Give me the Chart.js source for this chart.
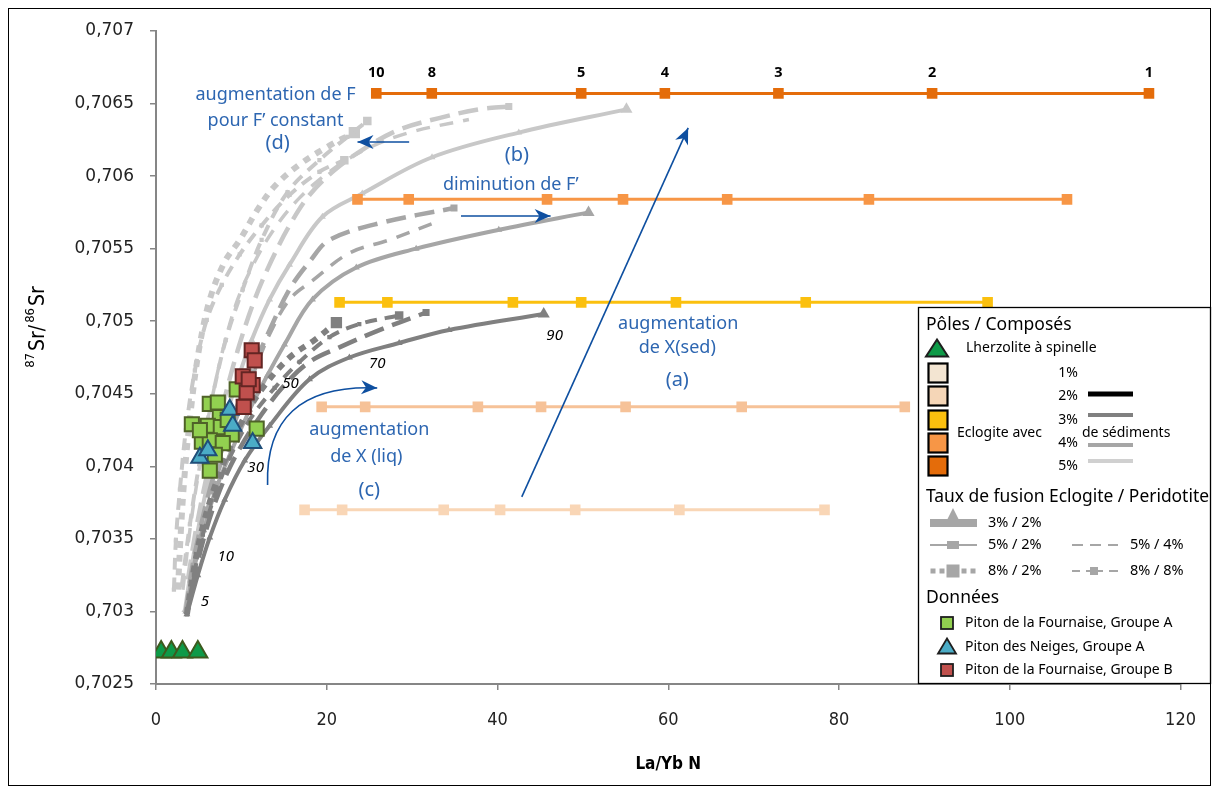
<!DOCTYPE html>
<html>
<head>
<meta charset="utf-8">
<script src="https://cdn.jsdelivr.net/npm/chart.js@4.4.0/dist/chart.umd.min.js"></script>
<style>
  html, body { margin: 0; padding: 0; background: #fff; }
  #wrap { position: relative; width: 1216px; height: 793px; }
  #frame { position: absolute; left: 8px; top: 8px; width: 1203px; height: 778px; border: 1px solid #000; box-sizing: border-box; pointer-events: none; }
  canvas { position: absolute; left: 0; top: 0; }
</style>
</head>
<body>
<div id="wrap">
  <canvas id="chart" width="1216" height="793"></canvas>
  <div id="frame"></div>
</div>
<script>
// axes
const xTickValues = [0, 20, 40, 60, 80, 100, 120];
const yTickValues = [0.7025, 0.703, 0.7035, 0.704, 0.7045, 0.705, 0.7055, 0.706, 0.7065, 0.707];

// poles (eclogite + sediments), La/Yb N for each point, one Sr ratio per line
const poleLabels = ['10', '8', '5', '4', '3', '2', '1'];
const pole5X = [25.8, 32.3, 49.8, 59.6, 72.9, 90.9, 116.3];
const pole4X = [23.6, 29.6, 45.8, 54.7, 66.9, 83.5, 106.7];
const pole3X = [21.5, 27.1, 41.8, 49.8, 60.9, 76.1, 97.4];
const pole2X = [19.4, 24.5, 37.7, 45.1, 55.0, 68.6, 87.7];
const pole1X = [17.4, 21.8, 33.7, 40.3, 49.1, 61.3, 78.3];
const poleY = [0.70370, 0.70441, 0.70513, 0.70584, 0.70657];

// lherzolite
const lherzX = [0.6, 1.8, 3.1, 4.9];
const lherzY = [0.70272, 0.70272, 0.70272, 0.70272];

// data
const greenX = [4.20, 6.30, 7.24, 7.47, 6.07, 7.59, 8.87, 5.37, 6.30, 7.82, 6.89, 6.30, 11.79, 9.45, 8.40, 5.14];
const greenY = [0.70429, 0.70443, 0.70444, 0.70434, 0.70428, 0.70427, 0.70422, 0.70417, 0.70418, 0.70416, 0.70408, 0.70397, 0.70426, 0.70453, 0.70432, 0.70425];
const blueX = [8.64, 11.32, 5.14, 6.07, 8.99];
const blueY = [0.70439, 0.70416, 0.70406, 0.70411, 0.70428];
const redX = [11.21, 11.56, 10.16, 11.32, 10.62, 10.27, 10.86];
const redY = [0.70480, 0.70473, 0.70462, 0.70456, 0.70451, 0.70441, 0.70460];

// mixing curves, 3% sediments (dark)
const darkSolidX = [3.62, 4.90, 6.30, 8.05, 10.39, 13.31, 17.98, 22.65, 28.48, 34.32, 45.41];
const darkSolidY = [0.70298, 0.70325, 0.70351, 0.70377, 0.70404, 0.70428, 0.70460, 0.70475, 0.70485, 0.70494, 0.70505];
const darkLongX = [3.62, 4.55, 5.72, 7.24, 9.22, 11.91, 15.06, 17.98, 21.48, 25.80, 31.63];
const darkLongY = [0.70298, 0.70325, 0.70353, 0.70380, 0.70406, 0.70432, 0.70456, 0.70472, 0.70482, 0.70493, 0.70506];
const darkDotX = [3.62, 4.32, 5.25, 6.54, 8.05, 9.81, 12.37, 15.64, 18.56, 21.13];
const darkDotY = [0.70298, 0.70325, 0.70353, 0.70380, 0.70404, 0.70428, 0.70453, 0.70475, 0.70487, 0.70499];
const darkSqX = [3.62, 4.44, 5.49, 6.89, 8.64, 10.97, 13.89, 16.81, 20.31, 23.81, 28.48];
const darkSqY = [0.70298, 0.70325, 0.70353, 0.70380, 0.70406, 0.70432, 0.70454, 0.70472, 0.70489, 0.70498, 0.70504];

// 4% sediments (medium)
const midSolidX = [3.50, 4.44, 5.60, 7.00, 8.87, 10.97, 13.07, 15.06, 18.33, 23.46, 30.47, 40.15, 50.66];
const midSolidY = [0.70300, 0.70329, 0.70356, 0.70384, 0.70411, 0.70439, 0.70463, 0.70484, 0.70515, 0.70537, 0.70550, 0.70563, 0.70575];
const midLongX = [3.50, 4.20, 5.14, 6.30, 7.70, 9.34, 11.21, 13.31, 15.64, 17.98, 20.31, 26.50, 34.90];
const midLongY = [0.70300, 0.70329, 0.70356, 0.70384, 0.70411, 0.70439, 0.70466, 0.70494, 0.70522, 0.70541, 0.70556, 0.70568, 0.70578];
const midDotX = [3.50, 4.32, 5.37, 6.65, 8.17, 9.81, 11.56, 13.31, 15.64, 18.33, 22.65, 27.31, 33.15];
const midDotY = [0.70300, 0.70329, 0.70356, 0.70384, 0.70411, 0.70439, 0.70466, 0.70491, 0.70515, 0.70528, 0.70547, 0.70556, 0.70569];

// 5% sediments (light)
const lightSolidX = [3.39, 4.20, 5.14, 6.30, 7.70, 9.34, 11.21, 13.31, 15.64, 19.49, 24.16, 32.33, 42.49, 55.10];
const lightSolidY = [0.70301, 0.70332, 0.70363, 0.70394, 0.70425, 0.70456, 0.70487, 0.70515, 0.70539, 0.70572, 0.70588, 0.70613, 0.70630, 0.70646];
const lightLongX = [3.74, 4.67, 6.07, 7.70, 9.57, 11.56, 13.54, 15.64, 17.98, 20.89, 24.40, 28.48, 33.15, 37.82, 41.32];
const lightLongY = [0.70322, 0.70356, 0.70397, 0.70439, 0.70480, 0.70515, 0.70542, 0.70566, 0.70587, 0.70604, 0.70619, 0.70632, 0.70640, 0.70646, 0.70648];
const lightDashX = [3.15, 3.97, 5.02, 6.30, 7.82, 9.57, 11.56, 13.89, 16.81, 20.31, 24.40, 29.65, 36.65];
const lightDashY = [0.70315, 0.70356, 0.70397, 0.70439, 0.70480, 0.70515, 0.70541, 0.70564, 0.70585, 0.70603, 0.70618, 0.70630, 0.70639];
const lightSqX = [3.03, 3.97, 5.14, 6.54, 8.17, 10.16, 12.37, 15.41, 19.14, 22.41, 24.75];
const lightSqY = [0.70318, 0.70360, 0.70404, 0.70446, 0.70487, 0.70522, 0.70556, 0.70589, 0.70611, 0.70627, 0.70638];
const lightDotX = [2.57, 2.92, 3.39, 4.09, 5.02, 6.30, 8.05, 9.81, 11.91, 13.89, 16.81, 20.31, 23.23];
const lightDotY = [0.70315, 0.70356, 0.70397, 0.70439, 0.70480, 0.70515, 0.70541, 0.70556, 0.70577, 0.70593, 0.70608, 0.70621, 0.70630];
const lightSq2X = [2.10, 2.33, 2.80, 3.50, 4.55, 5.95, 7.70, 9.81, 12.37, 15.64, 19.14, 22.06];
const lightSq2Y = [0.70315, 0.70349, 0.70384, 0.70425, 0.70466, 0.70501, 0.70525, 0.70546, 0.70566, 0.70587, 0.70603, 0.70611];

// X(liq) labels along the 3% curve
const xliqLabels = ['5', '10', '30', '50', '70', '90'];
const xliqLabelX = [5.72, 8.17, 11.67, 15.76, 25.91, 46.69];
const xliqLabelY = [0.70307, 0.70338, 0.70399, 0.70457, 0.70471, 0.70490];

const DARK = '#808080', MID = '#a6a6a6', LIGHT = '#c8c8c8';

const pts = (xs, ys) => xs.map((v, i) => ({ x: v, y: ys[i] }));

function curveSet(xs, ys, color, kind) {
  const last = xs.length - 1;
  const s = { data: pts(xs, ys), showLine: true, borderColor: color, backgroundColor: color,
              tension: 0.35, pointBorderWidth: 0, borderCapStyle: 'butt' };
  if (kind === 'solid') {
    Object.assign(s, { borderWidth: 4, pointStyle: 'triangle', pointRadius: c => c.dataIndex === last ? 7 : 4 });
  } else if (kind === 'long') {
    Object.assign(s, { borderWidth: 4.5, borderDash: [20, 9], pointStyle: 'rect', pointRadius: c => c.dataIndex === last ? 5 : 0 });
  } else if (kind === 'dash') {
    Object.assign(s, { borderWidth: 3.5, borderDash: [14, 10], pointRadius: 0 });
  } else if (kind === 'dot') {
    Object.assign(s, { borderWidth: 6, borderDash: [7, 7], pointStyle: 'rect', pointRadius: c => c.dataIndex === last ? 8 : 0 });
  } else {
    Object.assign(s, { borderWidth: 4, borderDash: [12, 8], pointStyle: 'rect', pointRadius: c => c.dataIndex === last ? 6 : 3 });
  }
  return s;
}

function poleSet(xs, yv, color) {
  return { data: xs.map(v => ({ x: v, y: yv })), showLine: true, borderColor: color, backgroundColor: color,
           borderWidth: 3, tension: 0, pointStyle: 'rect', pointRadius: 7.5, pointBorderWidth: 0 };
}

function markSet(xs, ys, style, fill, stroke, r) {
  return { data: pts(xs, ys), showLine: false, pointStyle: style, pointRadius: r,
           backgroundColor: fill, borderColor: stroke, pointBorderWidth: 2 };
}

const datasets = [
  markSet(redX, redY, 'rect', '#c0504d', '#632523', 10),
  markSet(blueX, blueY, 'triangle', '#4bacc6', '#1f4e79', 10),
  markSet(greenX, greenY, 'rect', '#92d050', '#4f6228', 10),
  markSet(lherzX, lherzY, 'triangle', '#0e9a48', '#3d5a1e', 11),
  poleSet(pole5X, poleY[4], '#e46c0a'),
  poleSet(pole4X, poleY[3], '#f79646'),
  poleSet(pole3X, poleY[2], '#fbc00e'),
  poleSet(pole2X, poleY[1], '#f6c298'),
  poleSet(pole1X, poleY[0], '#f9d6b6'),
  curveSet(darkSolidX, darkSolidY, DARK, 'solid'),
  curveSet(darkLongX, darkLongY, DARK, 'long'),
  curveSet(darkDotX, darkDotY, DARK, 'dot'),
  curveSet(darkSqX, darkSqY, DARK, 'sq'),
  curveSet(midSolidX, midSolidY, MID, 'solid'),
  curveSet(midLongX, midLongY, MID, 'long'),
  curveSet(midDotX, midDotY, MID, 'dash'),
  curveSet(lightSolidX, lightSolidY, LIGHT, 'solid'),
  curveSet(lightLongX, lightLongY, LIGHT, 'long'),
  curveSet(lightDashX, lightDashY, LIGHT, 'dash'),
  curveSet(lightSqX, lightSqY, LIGHT, 'sq'),
  curveSet(lightDotX, lightDotY, LIGHT, 'dot'),
  curveSet(lightSq2X, lightSq2Y, LIGHT, 'sq')
];

const SANS = '"Noto Sans", "Open Sans", sans-serif';
const NARROW = '"Liberation Sans Narrow", "DejaVu Sans Condensed", sans-serif';
const BLUE_TXT = '#2d66b1', BLUE_ARR = '#0e4fa0';

function text(ctx, s, x, y, font, color, align, maxW) {
  ctx.font = font;
  ctx.fillStyle = color || '#000';
  ctx.textAlign = align || 'left';
  ctx.textBaseline = 'middle';
  if (maxW) ctx.fillText(s, x, y, maxW); else ctx.fillText(s, x, y);
}

function arrowHead(ctx, x1, y1, x2, y2, len, half) {
  const a = Math.atan2(y2 - y1, x2 - x1);
  const bx = x2 - len * Math.cos(a), by = y2 - len * Math.sin(a);
  const nx = -Math.sin(a), ny = Math.cos(a);
  const mx = x2 - len * 0.7 * Math.cos(a), my = y2 - len * 0.7 * Math.sin(a);
  ctx.beginPath();
  ctx.moveTo(x2, y2);
  ctx.lineTo(bx + nx * half, by + ny * half);
  ctx.lineTo(mx, my);
  ctx.lineTo(bx - nx * half, by - ny * half);
  ctx.closePath();
  ctx.fill();
}

function square(ctx, cx, cy, s, fill, stroke, lw) {
  ctx.fillStyle = fill;
  ctx.fillRect(cx - s / 2, cy - s / 2, s, s);
  if (stroke) { ctx.strokeStyle = stroke; ctx.lineWidth = lw; ctx.strokeRect(cx - s / 2, cy - s / 2, s, s); }
}

function tri(ctx, cx, cy, w, h, fill, stroke, lw) {
  ctx.beginPath();
  ctx.moveTo(cx, cy - h / 2);
  ctx.lineTo(cx + w / 2, cy + h / 2);
  ctx.lineTo(cx - w / 2, cy + h / 2);
  ctx.closePath();
  ctx.fillStyle = fill; ctx.fill();
  if (stroke) { ctx.strokeStyle = stroke; ctx.lineWidth = lw; ctx.stroke(); }
}

function drawLegend(ctx) {
  const L = 918, T = 307, R = 1211, B = 684;
  ctx.save();
  ctx.fillStyle = '#fff';
  ctx.fillRect(L, T, R - L, B - T);
  ctx.strokeStyle = '#000'; ctx.lineWidth = 1.3;
  ctx.strokeRect(L + 0.5, T + 0.5, R - L - 1, B - T - 1);

  text(ctx, 'Pôles / Composés', 926, 325, '17.5px ' + SANS, '#000', 'left', 146);
  tri(ctx, 937, 348, 22, 17, '#0e9a48', '#1e1e1e', 2);
  text(ctx, 'Lherzolite à spinelle', 966, 348, '14px ' + SANS, '#000', 'left', 135);

  const sqCols = ['#f3e5d2', '#f5d6b7', '#fbc00e', '#f79646', '#e46c0a'];
  const rowY = [373, 396, 420, 443, 466];
  sqCols.forEach((c, i) => square(ctx, 938, rowY[i], 19, c, '#000', 2.2));
  text(ctx, 'Eclogite avec', 957, 433, '14px ' + SANS, '#000', 'left', 90);
  ['1%', '2%', '3%', '4%', '5%'].forEach((p, i) => text(ctx, p, 1068, rowY[i], '14px ' + SANS, '#000', 'center'));
  text(ctx, 'de sédiments', 1082, 433, '14px ' + SANS, '#000', 'left', 94);
  const lineY = [394, 415, 445, 461];
  const lineC = ['#000', '#808080', '#a6a6a6', '#d0d0d0'];
  ctx.lineCap = 'butt';
  lineY.forEach((yy, i) => {
    ctx.strokeStyle = lineC[i]; ctx.lineWidth = i === 0 ? 5 : 4;
    ctx.beginPath(); ctx.moveTo(1088, yy); ctx.lineTo(1133, yy); ctx.stroke();
  });

  text(ctx, 'Taux de fusion Eclogite / Peridotite', 926, 497, '17.5px ' + SANS, '#000', 'left', 283);
  const G = '#a6a6a6';
  // 3% / 2%
  ctx.fillStyle = G; ctx.fillRect(930, 519, 47, 8);
  tri(ctx, 953, 516, 16, 16, G);
  text(ctx, '3% / 2%', 988, 523, '14.5px ' + SANS, '#000');
  // 5% / 2%
  ctx.strokeStyle = G; ctx.lineWidth = 2;
  ctx.beginPath(); ctx.moveTo(930, 545); ctx.lineTo(977, 545); ctx.stroke();
  ctx.fillStyle = G; ctx.fillRect(947, 541, 12, 8);
  text(ctx, '5% / 2%', 988, 545, '14.5px ' + SANS, '#000');
  // 5% / 4%
  ctx.setLineDash([11, 7]);
  ctx.beginPath(); ctx.moveTo(1072, 545); ctx.lineTo(1118, 545); ctx.stroke();
  ctx.setLineDash([]);
  text(ctx, '5% / 4%', 1130, 545, '14.5px ' + SANS, '#000');
  // 8% / 2%
  [933, 942, 964, 973].forEach(xx => square(ctx, xx, 571, 5, G));
  square(ctx, 953, 571, 13, G);
  text(ctx, '8% / 2%', 988, 571, '14.5px ' + SANS, '#000');
  // 8% / 8%
  ctx.strokeStyle = G; ctx.lineWidth = 2;
  ctx.beginPath(); ctx.moveTo(1072, 571); ctx.lineTo(1080, 571); ctx.moveTo(1086, 571); ctx.lineTo(1103, 571);
  ctx.moveTo(1109, 571); ctx.lineTo(1118, 571); ctx.stroke();
  square(ctx, 1094, 571, 8, G);
  text(ctx, '8% / 8%', 1130, 571, '14.5px ' + SANS, '#000');

  text(ctx, 'Données', 926, 598, '17.5px ' + SANS, '#000');
  square(ctx, 947, 623, 12, '#92d050', '#1e1e1e', 1.8);
  text(ctx, 'Piton de la Fournaise, Groupe A', 965, 623, '14px ' + SANS, '#000', 'left', 215);
  tri(ctx, 947, 646, 18, 15, '#4bacc6', '#1e1e1e', 1.8);
  text(ctx, 'Piton des Neiges, Groupe A', 965, 647, '14px ' + SANS, '#000', 'left', 186);
  square(ctx, 947, 670, 12, '#c0504d', '#1e1e1e', 1.8);
  text(ctx, 'Piton de la Fournaise, Groupe B', 965, 670, '14px ' + SANS, '#000', 'left', 215);
  ctx.restore();
}

const overlay = {
  id: 'overlay',
  afterDatasetsDraw(chart) {
    const { ctx, scales: { x, y } } = chart;
    const px = v => x.getPixelForValue(v), py = v => y.getPixelForValue(v);
    ctx.save();

    // numbers above the 5% pole line
    pole5X.forEach((v, i) => text(ctx, poleLabels[i], px(v), py(poleY[4]) - 21, 'bold 14.5px ' + SANS, '#000', 'center'));
    // X(liq) labels
    xliqLabels.forEach((s, i) => text(ctx, s, px(xliqLabelX[i]), py(xliqLabelY[i]), 'italic 15px ' + SANS, '#000', 'center'));

    // blue annotations
    const f18 = '18px ' + SANS;
    text(ctx, 'augmentation de F', px(14.0), py(0.706559), f18, BLUE_TXT, 'center');
    text(ctx, 'pour F’ constant', px(14.0), py(0.70638), f18, BLUE_TXT, 'center');
    text(ctx, '(d)', px(14.24), py(0.706228), '20px ' + SANS, BLUE_TXT, 'center');
    text(ctx, '(b)', px(42.26), py(0.706146), '20px ' + SANS, BLUE_TXT, 'center');
    text(ctx, 'diminution de F’', px(41.55), py(0.705939), f18, BLUE_TXT, 'center');
    text(ctx, 'augmentation', px(61.16), py(0.704981), f18, BLUE_TXT, 'center');
    text(ctx, 'de X(sed)', px(61.05), py(0.704816), f18, BLUE_TXT, 'center');
    text(ctx, '(a)', px(61.05), py(0.704595), '20px ' + SANS, BLUE_TXT, 'center');
    text(ctx, 'augmentation', px(24.98), py(0.704251), f18, BLUE_TXT, 'center');
    text(ctx, 'de X (liq)', px(24.63), py(0.704064), f18, BLUE_TXT, 'center');
    text(ctx, '(c)', px(24.98), py(0.703837), '20px ' + SANS, BLUE_TXT, 'center');

    ctx.strokeStyle = BLUE_ARR; ctx.fillStyle = BLUE_ARR; ctx.lineWidth = 1.6;
    const arrow = (x1, y1, x2, y2) => {
      ctx.beginPath(); ctx.moveTo(px(x1), py(y1)); ctx.lineTo(px(x2), py(y2)); ctx.stroke();
      arrowHead(ctx, px(x1), py(y1), px(x2), py(y2), 16, 7);
    };
    arrow(29.65, 0.706235, 23.6, 0.706235);
    arrow(35.72, 0.705725, 46.22, 0.705725);
    arrow(42.84, 0.703789, 62.33, 0.706332);
    // curved arrow (c)
    const s0 = [px(13.07), py(0.703872)], c1 = [px(12.84), py(0.704319)], c2 = [px(16.81), py(0.704561)], e = [px(25.91), py(0.70454)];
    ctx.beginPath(); ctx.moveTo(s0[0], s0[1]); ctx.bezierCurveTo(c1[0], c1[1], c2[0], c2[1], e[0], e[1]); ctx.stroke();
    arrowHead(ctx, c2[0], c2[1], e[0], e[1], 16, 7);

    drawLegend(ctx);
    ctx.restore();
  },
  afterDraw(chart) {
    const { ctx, chartArea } = chart;
    ctx.save();
    text(ctx, 'La/Yb N', (chartArea.left + chartArea.right) / 2, 765, 'bold 17px ' + NARROW, '#000', 'center');
    // y title with superscripts
    ctx.translate(44, 326);
    ctx.rotate(-Math.PI / 2);
    ctx.textBaseline = 'alphabetic';
    ctx.fillStyle = '#000';
    const parts = [['87', true], ['Sr/', false], ['86', true], ['Sr', false]];
    const big = '21px ' + NARROW, small = '13px ' + NARROW;
    let w = 0;
    parts.forEach(([s, sup]) => { ctx.font = sup ? small : big; w += ctx.measureText(s).width + 2; });
    let cx = -w / 2;
    parts.forEach(([s, sup]) => {
      ctx.font = sup ? small : big;
      ctx.textAlign = 'left';
      ctx.fillText(s, cx, sup ? -10 : 0);
      cx += ctx.measureText(s).width + 2;
    });
    ctx.restore();
  }
};

new Chart(document.getElementById('chart'), {
  type: 'scatter',
  data: { datasets },
  options: {
    responsive: false,
    animation: false,
    devicePixelRatio: 1,
    layout: { padding: { left: 0, top: 31, right: 32, bottom: 0 } },
    plugins: { legend: { display: false }, tooltip: { enabled: false } },
    scales: {
      x: {
        type: 'linear', min: 0, max: 120,
        afterBuildTicks: s => { s.ticks = xTickValues.map(v => ({ value: v })); },
        afterFit: s => { s.height = 109; },
        ticks: { font: { family: NARROW, size: 18 }, color: '#222', padding: 20 },
        grid: { drawOnChartArea: false, drawTicks: true, tickLength: 6, color: '#868686', lineWidth: 1.5 },
        border: { color: '#868686', width: 2 }
      },
      y: {
        type: 'linear', min: 0.7025, max: 0.707,
        afterBuildTicks: s => { s.ticks = yTickValues.map(v => ({ value: v })); },
        afterFit: s => { s.width = 156; },
        ticks: {
          font: { family: '"DejaVu Sans", sans-serif', size: 17 }, color: '#222', padding: 16,
          callback: v => String(Number(v.toFixed(4))).replace('.', ',')
        },
        grid: { drawOnChartArea: false, drawTicks: true, tickLength: 6, color: '#868686', lineWidth: 1.5 },
        border: { color: '#868686', width: 2 }
      }
    }
  },
  plugins: [overlay]
});
</script>
</body>
</html>
